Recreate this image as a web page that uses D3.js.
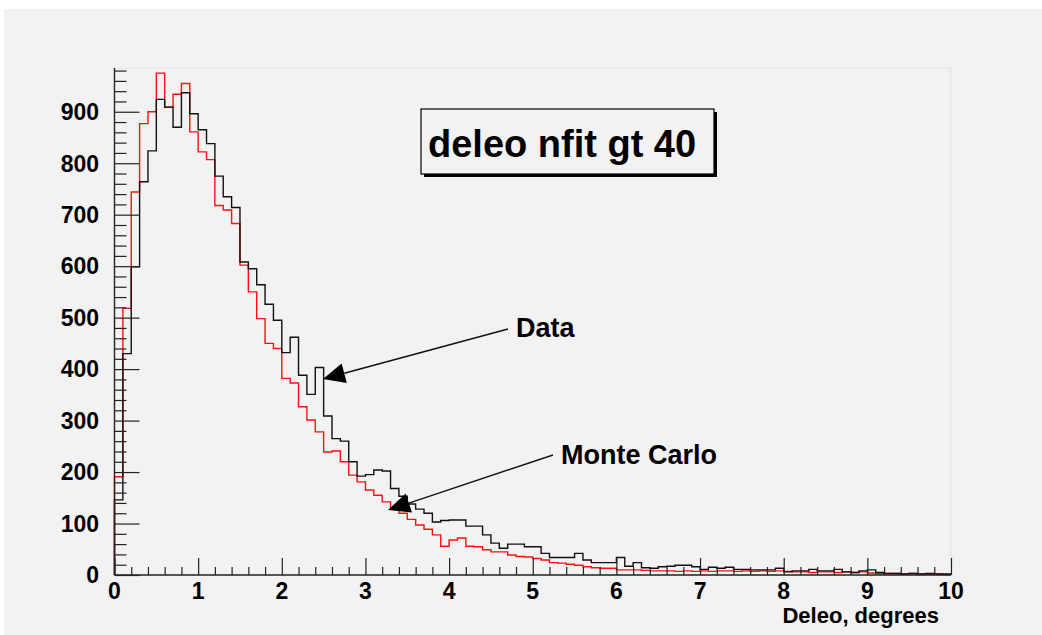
<!DOCTYPE html>
<html>
<head>
<meta charset="utf-8">
<script src="https://cdn.jsdelivr.net/npm/d3@7"></script>
<style>
  body { margin: 0; background: #fff; }
  text { font-family: "Liberation Sans", Arial, Helvetica, sans-serif; font-weight: bold; }
</style>
</head>
<body>
<script>
var width = 1042;
var height = 635;

// histogram: 100 bins of 0.1 degree from 0 to 10
var binEdges = [0, 10];
var binWidth = 0.1;

var dataCounts = [
  146, 430, 599, 764, 824, 924, 909, 870, 937, 896,
  865, 838, 775, 735, 714, 608, 595, 564, 526, 495,
  432, 462, 388, 351, 403, 309, 265, 260, 220, 192,
  195, 204, 202, 168, 153, 138, 128, 120, 103, 106,
  107, 107, 95, 95, 78, 62, 52, 60, 60, 55,
  55, 42, 34, 34, 34, 42, 29, 24, 24, 24,
  34, 17, 24, 14, 13, 16, 17, 19, 19, 16,
  11, 15, 13, 15, 11, 11, 10, 10, 10, 13,
  6, 8, 8, 11, 8, 8, 11, 6, 5, 8,
  10, 5, 3, 3, 2, 3, 2, 3, 2, 2
];

var mcCounts = [
  191, 518, 744, 877, 900, 975, 909, 934, 955, 861,
  822, 807, 718, 709, 683, 602, 550, 498, 450, 440,
  382, 373, 327, 301, 278, 239, 241, 220, 194, 181,
  165, 155, 142, 128, 120, 108, 97, 89, 78, 56,
  68, 72, 56, 55, 49, 45, 45, 39, 36, 35,
  32, 29, 24, 23, 21, 19, 16, 14, 13, 13,
  10, 10, 10, 9, 8, 8, 8, 7, 8, 7,
  8, 7, 8, 8, 7, 8, 7, 8, 7, 8,
  7, 6, 6, 5, 6, 6, 5, 6, 5, 6,
  4, 3, 3, 3, 2, 3, 2, 2, 2, 1
];

var xTicks = [0, 1, 2, 3, 4, 5, 6, 7, 8, 9, 10];
var yTicks = [0, 100, 200, 300, 400, 500, 600, 700, 800, 900];
var yMax = 985;

var titleText = 'deleo nfit gt 40';
var xTitle = 'Deleo, degrees';

var svg = d3.select('body').append('svg')
    .attr('width', width)
    .attr('height', height);

// canvas
svg.append('rect')
    .attr('x', 4).attr('y', 9)
    .attr('width', width - 4).attr('height', height - 9)
    .attr('fill', '#f2f2f2');

var x = d3.scaleLinear().domain(binEdges).range([114.5, 951]);
var y = d3.scaleLinear().domain([0, yMax]).range([575, 68]);

// frame
svg.append('rect')
    .attr('x', x(0)).attr('y', y(yMax))
    .attr('width', x(10) - x(0)).attr('height', y(0) - y(yMax))
    .attr('fill', 'none')
    .attr('stroke', '#e2e2e2');

function histPoints(counts) {
  var pts = [[0, 0]];
  counts.forEach(function(c, i) { pts.push([i * binWidth, c]); });
  pts.push([binEdges[1], counts[counts.length - 1]]);
  pts.push([binEdges[1], 0]);
  return pts;
}

var step = d3.line()
    .x(function(d) { return x(d[0]); })
    .y(function(d) { return y(d[1]); })
    .curve(d3.curveStepAfter);

svg.append('path')
    .attr('d', step(histPoints(mcCounts)))
    .attr('fill', 'none')
    .attr('stroke', '#ff1010')
    .attr('stroke-width', 1.4);

svg.append('path')
    .attr('d', step(histPoints(dataCounts)))
    .attr('fill', 'none')
    .attr('stroke', '#111')
    .attr('stroke-width', 1.4);

// x axis, ticks drawn upward inside the frame
var xAxis = d3.axisTop(x)
    .tickValues(d3.range(0, 10.001, 0.2))
    .tickSize(8)
    .tickFormat('');
var gx = svg.append('g')
    .attr('transform', 'translate(0,' + y(0) + ')')
    .call(xAxis);
gx.selectAll('.tick line')
    .attr('y2', function(d) { return Math.abs(d - Math.round(d)) < 1e-6 ? -17 : -8; });

svg.selectAll('.xlabel').data(xTicks).enter().append('text')
    .attr('class', 'xlabel')
    .attr('x', function(d) { return x(d); })
    .attr('y', 599)
    .attr('text-anchor', 'middle')
    .attr('font-size', 23)
    .text(function(d) { return d; });

// y axis, ticks drawn to the right
var yAxis = d3.axisRight(y)
    .tickValues(d3.range(0, yMax, 20))
    .tickSize(12)
    .tickFormat('');
var gy = svg.append('g')
    .attr('transform', 'translate(' + x(0) + ',0)')
    .call(yAxis);
gy.selectAll('.tick line')
    .attr('x2', function(d) { return d % 100 === 0 ? 25 : 12; });

svg.selectAll('.ylabel').data(yTicks).enter().append('text')
    .attr('class', 'ylabel')
    .attr('x', 99)
    .attr('y', function(d) { return y(d); })
    .attr('dy', '0.36em')
    .attr('text-anchor', 'end')
    .attr('font-size', 23)
    .text(function(d) { return d; });

svg.selectAll('.domain').attr('stroke', '#222').attr('stroke-width', 1.4);
svg.selectAll('.tick line').attr('stroke', '#222').attr('stroke-width', 1.2);
// axis lines span the full frame
gy.select('.domain').attr('d', 'M0,' + y(0) + 'V' + y(yMax));
gx.select('.domain').attr('d', 'M' + x(0) + ',0H' + x(10));

svg.append('text')
    .attr('x', 939)
    .attr('y', 623)
    .attr('text-anchor', 'end')
    .attr('font-size', 22)
    .text(xTitle);

// title box with shadow
svg.append('rect')
    .attr('x', 424).attr('y', 112)
    .attr('width', 293).attr('height', 65)
    .attr('fill', '#000');
svg.append('rect')
    .attr('x', 421).attr('y', 109)
    .attr('width', 293).attr('height', 65)
    .attr('fill', '#f2f2f2')
    .attr('stroke', '#000')
    .attr('stroke-width', 1.2);
svg.append('text')
    .attr('x', 428)
    .attr('y', 157)
    .attr('font-size', 38)
    .text(titleText);

// arrow annotations
var notes = [
  { label: 'Data', tx: 516, ty: 337, from: [508, 329], to: [323, 379] },
  { label: 'Monte Carlo', tx: 561, ty: 464, from: [553, 455], to: [388, 510] }
];

notes.forEach(function(n) {
  var dx = n.to[0] - n.from[0], dy = n.to[1] - n.from[1];
  var len = Math.sqrt(dx * dx + dy * dy);
  var ux = dx / len, uy = dy / len;
  var headLen = 22, headW = 10;
  var bx = n.to[0] - ux * headLen, by = n.to[1] - uy * headLen;

  svg.append('line')
      .attr('x1', n.from[0]).attr('y1', n.from[1])
      .attr('x2', bx).attr('y2', by)
      .attr('stroke', '#111')
      .attr('stroke-width', 1.4);

  svg.append('path')
      .attr('d', 'M' + n.to[0] + ',' + n.to[1] +
                 'L' + (bx - uy * headW) + ',' + (by + ux * headW) +
                 'L' + (bx + uy * headW) + ',' + (by - ux * headW) + 'Z')
      .attr('fill', '#000');

  svg.append('text')
      .attr('x', n.tx)
      .attr('y', n.ty)
      .attr('font-size', 27)
      .text(n.label);
});
</script>
</body>
</html>
